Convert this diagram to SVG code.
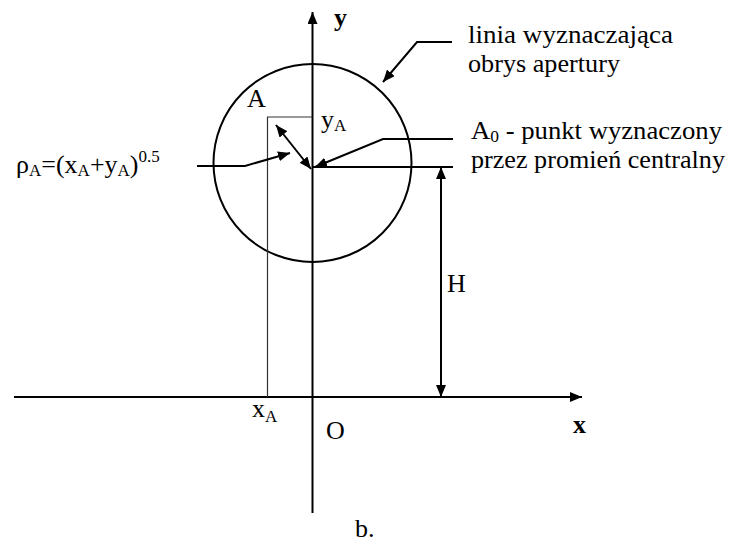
<svg xmlns="http://www.w3.org/2000/svg" width="729" height="549" viewBox="0 0 729 549">
<defs>
<marker id="ah" viewBox="0 0 12 10" refX="12" refY="5" markerWidth="12" markerHeight="10" markerUnits="userSpaceOnUse" orient="auto-start-reverse">
<path d="M0,0 L12,5 L0,10 Z" fill="#000"/>
</marker>
<style>
text{font-family:"Liberation Serif","Times New Roman",serif;font-size:26px;fill:#000}
.s{font-size:17px}
.b{font-weight:bold}
.ln{stroke:#000;stroke-width:2;fill:none}
.thin{stroke:#333;stroke-width:1.2;fill:none}
</style>
</defs>
<rect width="729" height="549" fill="#fff"/>
<g id="axes">
<line class="ln" x1="312.5" y1="513" x2="312.5" y2="12" marker-end="url(#ah)"/>
<line class="ln" x1="14" y1="397" x2="582" y2="397" marker-end="url(#ah)"/>
<text class="b" x="334" y="26">y</text>
<text class="b" x="573" y="433">x</text>
<text x="326" y="439">O</text>
</g>
<g id="aperture">
<circle class="ln" cx="312.5" cy="163" r="99"/>
</g>
<g id="pointA">
<polyline class="thin" points="312.5,117 267.5,117 267.5,397"/>
<text x="247" y="107">A</text>
<text x="321" y="128">y<tspan class="s" dy="3">A</tspan></text>
<text x="252" y="417">x<tspan class="s" dy="5">A</tspan></text>
</g>
<g id="labels">
<text x="468" y="43" textLength="205" lengthAdjust="spacingAndGlyphs">linia wyznaczająca</text>
<text x="468" y="72" textLength="152" lengthAdjust="spacingAndGlyphs">obrys apertury</text>
<text x="471" y="139" textLength="251" lengthAdjust="spacingAndGlyphs">A<tspan class="s" dy="3">0</tspan><tspan dy="-3"> - punkt wyznaczony</tspan></text>
<text x="471" y="168" textLength="254" lengthAdjust="spacingAndGlyphs">przez promień centralny</text>
<text x="16" y="173">ρ<tspan class="s" dy="3">A</tspan><tspan dy="-3">=(x</tspan><tspan class="s" dy="3">A</tspan><tspan dy="-3">+y</tspan><tspan class="s" dy="3">A</tspan><tspan dy="-3">)</tspan><tspan class="s" dy="-11">0.5</tspan></text>
<text x="447" y="292">H</text>
<text x="355" y="537">b.</text>
</g>
<g id="connectors">
<polyline class="ln" points="452,42 417,42 383,82" marker-end="url(#ah)"/>
<polyline class="ln" points="453,139 383,139 315,167" marker-end="url(#ah)"/>
<line class="ln" x1="312.5" y1="167" x2="453" y2="167"/>
<polyline class="ln" points="197,166 245,166 290,153" marker-end="url(#ah)"/>
<line class="ln" x1="276" y1="125" x2="311" y2="169" marker-start="url(#ah)" marker-end="url(#ah)"/>
<line class="ln" x1="441" y1="167" x2="441" y2="397" marker-start="url(#ah)" marker-end="url(#ah)"/>
</g>
</svg>
